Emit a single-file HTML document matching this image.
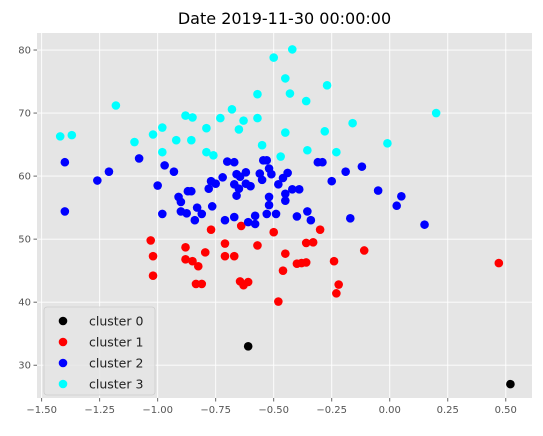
<!DOCTYPE html>
<html><head><meta charset="utf-8"><style>
body{margin:0;background:#fff;}
svg{display:block;font-family:"DejaVu Sans","Liberation Sans",sans-serif;}
</style></head><body>
<svg id="chart" width="543" height="436"></svg>
<script>
const xTicks=[-1.5,-1.25,-1.0,-0.75,-0.5,-0.25,0.0,0.25,0.5];
const xTickLabels=["−1.50","−1.25","−1.00","−0.75","−0.50","−0.25","0.00","0.25","0.50"];
const yTicks=[30,40,50,60,70,80];
const seriesNames=["cluster 0","cluster 1","cluster 2","cluster 3"];
const seriesColors=["#000000","#ff0000","#0000ff","#00ffff"];
const c0x=[-0.61,0.52];
const c0y=[33.0,27.0];
const c1x=[-1.03,-1.02,-1.02,-0.88,-0.88,-0.85,-0.825,-0.835,-0.81,-0.795,-0.77,-0.71,-0.71,-0.67,-0.64,-0.645,-0.63,-0.61,-0.57,-0.50,-0.45,-0.46,-0.48,-0.40,-0.38,-0.36,-0.36,-0.33,-0.30,-0.24,-0.22,-0.23,-0.11,0.47];
const c1y=[49.8,47.3,44.2,48.7,46.8,46.5,45.7,42.9,42.9,47.9,51.5,49.3,47.3,47.3,52.1,43.3,42.7,43.2,49.0,51.1,47.7,45.0,40.1,46.1,46.2,46.3,49.4,49.5,51.5,46.5,42.8,41.4,48.2,46.2];
const c2x=[-1.40,-1.40,-1.26,-1.21,-1.08,-1.00,-0.97,-0.93,-0.98,-0.91,-0.90,-0.87,-0.855,-0.83,-0.90,-0.875,-0.84,-0.81,-0.765,-0.78,-0.77,-0.75,-0.72,-0.70,-0.67,-0.66,-0.67,-0.66,-0.65,-0.645,-0.62,-0.62,-0.60,-0.71,-0.67,-0.61,-0.58,-0.58,-0.56,-0.55,-0.545,-0.53,-0.52,-0.51,-0.48,-0.46,-0.44,-0.52,-0.52,-0.53,-0.49,-0.45,-0.45,-0.42,-0.39,-0.40,-0.355,-0.34,-0.31,-0.29,-0.25,-0.19,-0.12,-0.05,0.05,0.03,-0.17,0.15];
const c2y=[62.2,54.4,59.3,60.7,62.8,58.5,61.7,60.7,54.0,56.7,55.9,57.6,57.6,55.0,54.4,54.1,53.0,54.0,55.2,58.0,59.2,58.8,59.8,62.3,62.2,60.3,58.7,56.9,58.0,59.9,60.6,58.8,58.4,53.0,53.5,52.7,52.4,53.7,60.4,59.4,62.5,62.5,61.2,60.3,58.7,59.7,60.5,56.7,55.4,54.0,54.0,57.2,56.1,57.9,57.9,53.6,54.4,53.0,62.2,62.2,59.2,60.7,61.5,57.7,56.8,55.3,53.3,52.3];
const c3x=[-1.42,-1.37,-1.18,-1.10,-1.02,-0.98,-0.98,-0.92,-0.88,-0.85,-0.855,-0.79,-0.79,-0.76,-0.73,-0.68,-0.65,-0.63,-0.57,-0.57,-0.55,-0.50,-0.45,-0.47,-0.45,-0.43,-0.42,-0.36,-0.27,-0.16,0.20,-0.01,-0.28,-0.355,-0.23];
const c3y=[66.3,66.5,71.2,65.4,66.6,67.7,63.8,65.7,69.6,69.3,65.7,67.6,63.8,63.3,69.2,70.6,67.4,68.8,73.0,69.2,64.9,78.8,75.5,63.1,66.9,73.1,80.1,71.9,74.4,68.4,70.0,65.2,67.1,64.1,63.8];
const seriesX=[c0x,c1x,c2x,c3x];
const seriesY=[c0y,c1y,c2y,c3y];

const L=37,R=532,T=33,B=398;
const xmin=-1.52,xmax=0.613,ymin=24.8,ymax=82.7;
const sx=v=>L+(v-xmin)/(xmax-xmin)*(R-L);
const sy=v=>B-(v-ymin)/(ymax-ymin)*(B-T);
const NS="http://www.w3.org/2000/svg";
const svg=document.getElementById('chart');
function mk(tag,attrs,parent){const e=document.createElementNS(NS,tag);for(const k in attrs)e.setAttribute(k,attrs[k]);(parent||svg).appendChild(e);return e;}

const bg=mk('rect',{x:L,y:T,width:R-L,height:B-T,fill:'#e5e5e5'});



const title=mk('text',{x:(L+R)/2,y:24,'text-anchor':'middle','font-size':16,fill:'#000'});
title.textContent='Date 2019-11-30 00:00:00';



xTicks.forEach((t,i)=>{
  const x=sx(t);
  const g=mk('line',{x1:x,x2:x,y1:T,y2:B,stroke:'#fff','stroke-width':0.9});
  
  
  mk('line',{x1:x,x2:x,y1:B,y2:B+3.5,stroke:'#555','stroke-width':0.9});
  const tx=mk('text',{x:x,y:B+15,'text-anchor':'middle','font-size':10,fill:'#555'});
  tx.textContent=xTickLabels[i];
  
  
});
yTicks.forEach(t=>{
  const y=sy(t);
  const g=mk('line',{x1:L,x2:R,y1:y,y2:y,stroke:'#fff','stroke-width':0.9});
  
  
  mk('line',{x1:L-3.5,x2:L,y1:y,y2:y,stroke:'#555','stroke-width':0.9});
  const tx=mk('text',{x:L-6,y:y+3.5,'text-anchor':'end','font-size':10,fill:'#555'});
  tx.textContent=String(t);
  
  
});

seriesX.forEach((xs,s)=>{
  xs.forEach((v,i)=>{
    const c=mk('circle',{cx:sx(v),cy:sy(seriesY[s][i]),r:4.3,fill:seriesColors[s]});
    
    
  });
});

const lg=mk('g',{});


mk('rect',{x:44,y:307,width:111,height:88,rx:3,fill:'#e5e5e5',stroke:'#ccc','stroke-width':0.8,'fill-opacity':0.8},lg);
seriesNames.forEach((n,i)=>{
  const y=321+i*21;
  const m=mk('circle',{cx:63,cy:y,r:4.3,fill:seriesColors[i]},lg);
  
  
  const t=mk('text',{x:89,y:y+4.5,'font-size':12.5,fill:'#222'},lg);
  t.textContent=n;
  
  
});
</script>
</body></html>
